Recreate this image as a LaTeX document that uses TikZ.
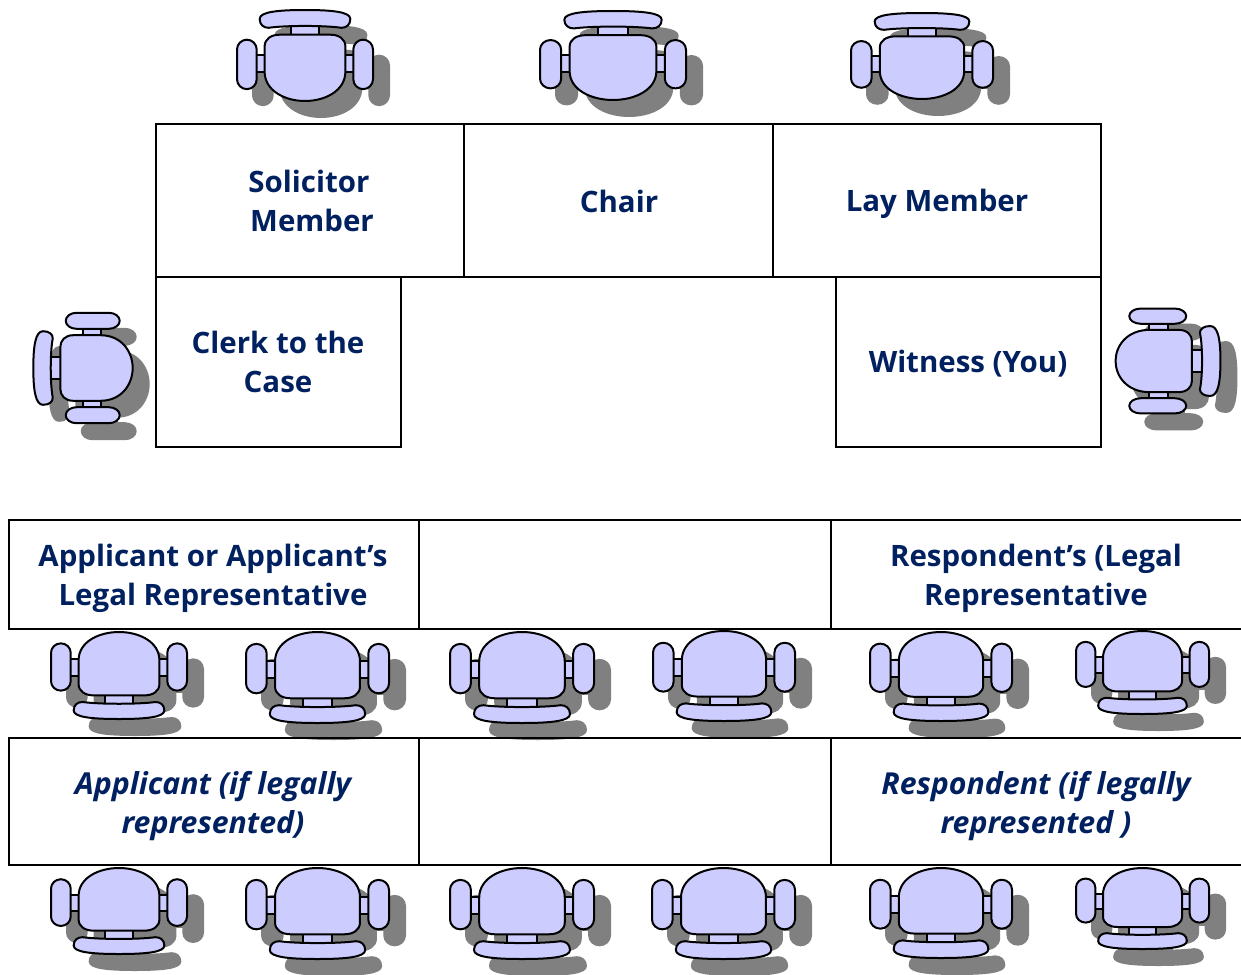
\documentclass[tikz,border=0pt]{standalone}
\usepackage{fontspec}
\setmainfont{Open Sans}
\definecolor{navy}{HTML}{002060}
\definecolor{seatblue}{HTML}{CCCCFF}
\definecolor{shadowgrey}{HTML}{808080}
\tikzset{
  chairline/.style={draw=black,fill=seatblue,line width=1.5pt,line join=round},
  chairshadow/.style={draw=shadowgrey,fill=shadowgrey,line width=1.5pt,line join=round},
  grid/.style={draw=black,line width=1.4pt},
  label/.style={text=navy,font=\fontsize{22.1}{29.25}\selectfont\bfseries,align=center,anchor=center,inner sep=0pt},
  ilabel/.style={label,font=\fontsize{22.7}{29.25}\selectfont\bfseries\itshape}
}
\newcommand{\chairparts}{%
  \path[chairpart] (-14,-32) rectangle (14,-20);
  \path[chairpart] (-50,0) rectangle (-40,17);
  \path[chairpart] (40,0) rectangle (50,17);
  \path[chairpart] (-46,-37) .. controls (-46,-44) and (-28,-46) .. (0,-46)
     .. controls (28,-46) and (46,-44) .. (46,-37)
     .. controls (46,-31) and (42,-28) .. (37,-28)
     .. controls (20,-30.5) and (-20,-30.5) .. (-37,-28)
     .. controls (-42,-28) and (-46,-31) .. (-46,-37) -- cycle;
  \path[chairpart] (-41,-9) .. controls (-41,-17) and (-34,-21) .. (-26,-21)
     -- (26,-21) .. controls (34,-21) and (41,-17) .. (41,-9)
     -- (41,16) .. controls (41,36) and (20,46) .. (0,46)
     .. controls (-20,46) and (-41,36) .. (-41,16) -- cycle;
  \path[chairpart] (-69,-6) .. controls (-69,-11.5) and (-64.5,-16) .. (-59,-16)
     .. controls (-53.5,-16) and (-49,-11.5) .. (-49,-6) -- (-49,24)
     .. controls (-49,29.5) and (-53.5,34) .. (-59,34)
     .. controls (-64.5,34) and (-69,29.5) .. (-69,24) -- cycle;
  \path[chairpart] (49,-6) .. controls (49,-11.5) and (53.5,-16) .. (59,-16)
     .. controls (64.5,-16) and (69,-11.5) .. (69,-6) -- (69,24)
     .. controls (69,29.5) and (64.5,34) .. (59,34)
     .. controls (53.5,34) and (49,29.5) .. (49,24) -- cycle;
}
% centre x, centre y, scale across, scale along, angle
\newcommand{\chairat}[5]{%
  \begin{scope}[shift={({#1+16},{#2+16})},rotate=#5,xscale=#3,yscale=#4,chairpart/.style={chairshadow}]\chairparts\end{scope}
  \begin{scope}[shift={(#1,#2)},rotate=#5,xscale=#3,yscale=#4,chairpart/.style={chairline}]\chairparts\end{scope}
}
% from outer extents x0 x1 y0 y1 for upright or flipped chairs
\newcommand{\chairbox}[5]{%
  \pgfmathsetmacro{\cxx}{(#1+#2)/2}\pgfmathsetmacro{\cyy}{(#3+#4)/2}%
  \pgfmathsetmacro{\sxx}{(#2-#1)/138}\pgfmathsetmacro{\syy}{(#4-#3)/92}%
  \chairat{\cxx}{\cyy}{\sxx}{\syy}{#5}
}
\begin{document}
\begin{tikzpicture}[x=0.75pt,y=-0.75pt]
\useasboundingbox (0,0) rectangle (1241,974);
% chairs, top row
\chairbox{237}{373}{10}{101}{0}
\chairbox{540}{686}{11}{100}{0}
\chairbox{851}{993}{13}{99}{0}
% side chairs
\chairat{83}{368}{0.80}{1.08}{90}
\chairat{1168}{361}{0.76}{1.14}{-90}
% rows of chairs
\chairbox{51}{187}{632}{719}{180}
\chairbox{246}{389}{632}{723}{180}
\chairbox{450}{594}{632}{723}{180}
\chairbox{653}{795}{631}{721}{180}
\chairbox{870}{1012}{632}{721}{180}
\chairbox{1076}{1209}{631}{714}{180}
\chairbox{51}{187}{868}{954}{180}
\chairbox{246}{389}{868}{959}{180}
\chairbox{450}{594}{868}{959}{180}
\chairbox{652}{795}{868}{959}{180}
\chairbox{870}{1012}{868}{958}{180}
\chairbox{1076}{1209}{868}{949}{180}
% tables
\draw[grid] (156,124) rectangle (1101,277);
\draw[grid] (464,124) -- (464,277);
\draw[grid] (773,124) -- (773,277);
\draw[grid] (156,277) rectangle (401,447);
\draw[grid] (836,277) rectangle (1101,447);
\draw[grid] (1241,520) -- (9,520) -- (9,629) -- (1241,629);
\draw[grid] (419,520) -- (419,629);
\draw[grid] (831,520) -- (831,629);
\draw[grid] (1241,738) -- (9,738) -- (9,865) -- (1241,865);
\draw[grid] (419,738) -- (419,865);
\draw[grid] (831,738) -- (831,865);
% labels
\node[label] (solicitor) at (312,201) {Solicitor\kern4.5pt\\\kern0pt Member};
\node[label] (chair) at (619,201) {Chair};
\node[label] (lay) at (937,204) {Lay Member};
\node[label] (clerk) at (278,362) {Clerk to the\\Case};
\node[label] (witness) at (968,364) {Witness (You)};
\node[label] (applicant) at (213,578) {Applicant or Applicant’s\\Legal Representative};
\node[label] (respondent) at (1036,578) {Respondent’s (Legal\\Representative};
\node[ilabel] (applicanti) at (213,806) {Applicant (if legally\\represented)};
\node[ilabel] (respondenti) at (1036,806) {Respondent (if legally\\represented )};
\end{tikzpicture}
\end{document}
